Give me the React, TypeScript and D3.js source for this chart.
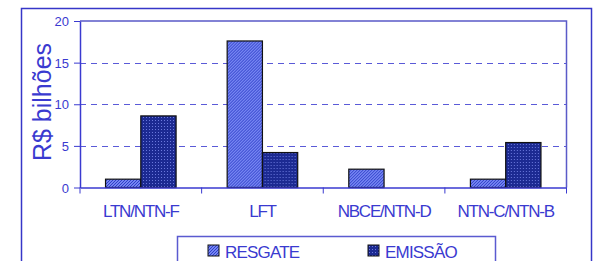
import React, { useEffect, useRef } from 'react';
import * as d3 from 'd3';

// Chart data
const categories = ['LTN/NTN-F', 'LFT', 'NBCE/NTN-D', 'NTN-C/NTN-B'];
const seriesNames = ['RESGATE', 'EMISSÃO'];
const resgate = [1.0, 17.6, 2.2, 1.0];
const emissao = [8.6, 4.2, 0, 5.4];
const yTicks = [0, 5, 10, 15, 20];

const BLUE = '#3a3ad0';

const App: React.FC = () => {
  const svgRef = useRef<SVGSVGElement>(null);

  useEffect(() => {
    if (!svgRef.current) return;
    const svg = d3.select(svgRef.current);
    svg.selectAll('*').remove();

    const plot = { left: 80, right: 566.5, top: 21, bottom: 187.5 };
    const font = '"Liberation Sans", Arial, sans-serif';

    // patterns
    const defs = svg.append('defs');
    const p1 = defs.append('pattern')
      .attr('id', 'hatch').attr('patternUnits', 'userSpaceOnUse')
      .attr('width', 3).attr('height', 3);
    p1.append('rect').attr('width', 3).attr('height', 3).attr('fill', '#7585f2');
    p1.append('path').attr('d', 'M-1,1 l2,-2 M0,3 l3,-3 M2,4 l2,-2')
      .attr('stroke', '#2f3fc8').attr('stroke-width', 1);

    const p2 = defs.append('pattern')
      .attr('id', 'dots').attr('patternUnits', 'userSpaceOnUse')
      .attr('width', 3).attr('height', 3);
    p2.append('rect').attr('width', 3).attr('height', 3).attr('fill', '#1c2a92');
    p2.append('rect').attr('width', 1).attr('height', 1).attr('fill', '#6a78dc');

    const fills = ['url(#hatch)', 'url(#dots)'];

    // outer border
    svg.append('rect')
      .attr('x', 21.5).attr('y', 8.5).attr('width', 570).attr('height', 270)
      .attr('fill', 'none').attr('stroke', '#3636c8').attr('stroke-width', 1.5);

    const x0 = d3.scaleBand<string>().domain(categories).range([plot.left, plot.right]).padding(0);
    const gap = x0.bandwidth() * 0.21;
    const x1 = d3.scaleBand<string>().domain(seriesNames).range([gap, x0.bandwidth() - gap]).padding(0);
    const y = d3.scaleLinear().domain([0, 20]).range([plot.bottom, plot.top]);

    // gridlines
    svg.append('g').selectAll('line')
      .data(yTicks.filter(t => t > 0 && t < 20))
      .join('line')
      .attr('x1', plot.left).attr('x2', plot.right)
      .attr('y1', d => Math.round(y(d)) + 0.5).attr('y2', d => Math.round(y(d)) + 0.5)
      .attr('stroke', '#5a5ad8').attr('stroke-dasharray', '6 5').attr('stroke-width', 1);

    // plot frame (top & right)
    svg.append('path')
      .attr('d', `M${plot.left},${plot.top} H${plot.right} V${plot.bottom}`)
      .attr('fill', 'none').attr('stroke', '#5a5ac8').attr('stroke-width', 1.5);

    // bars
    const rows = categories.map((c, i) => ({ c, values: [resgate[i], emissao[i]] }));
    const groups = svg.append('g').selectAll('g')
      .data(rows).join('g')
      .attr('transform', d => `translate(${x0(d.c)},0)`);
    groups.selectAll('rect')
      .data(d => d.values.map((v, k) => ({ v, k })).filter(e => e.v > 0))
      .join('rect')
      .attr('x', e => x1(seriesNames[e.k])!)
      .attr('width', x1.bandwidth())
      .attr('y', e => y(e.v))
      .attr('height', e => plot.bottom - y(e.v))
      .attr('fill', e => fills[e.k])
      .attr('stroke', '#111').attr('stroke-width', 1.2);

    // y axis
    const yAxis = svg.append('g')
      .attr('transform', `translate(${plot.left},0)`)
      .call(d3.axisLeft(y).tickValues(yTicks).tickSize(6).tickPadding(5).tickSizeOuter(0));
    yAxis.select('.domain').attr('stroke', BLUE).attr('stroke-width', 1.5);
    yAxis.selectAll('.tick line').attr('stroke', BLUE);
    yAxis.selectAll('.tick text')
      .attr('fill', BLUE).attr('font-size', 13).attr('font-family', font).attr('dy', '0.35em');

    // x axis
    const xAxis = svg.append('g')
      .attr('transform', `translate(0,${plot.bottom})`)
      .call(d3.axisBottom(x0).tickSize(0).tickPadding(17));
    xAxis.select('.domain').attr('stroke', BLUE).attr('stroke-width', 1.5);
    xAxis.selectAll('.tick text')
      .attr('fill', BLUE).attr('font-size', 17).attr('font-family', font)
      .attr('letter-spacing', -1.2);
    const edges = [...categories.map(c => x0(c)!), plot.right];
    svg.append('g').selectAll('line').data(edges).join('line')
      .attr('x1', d => d).attr('x2', d => d)
      .attr('y1', plot.bottom).attr('y2', plot.bottom + 6)
      .attr('stroke', BLUE).attr('stroke-width', 1);

    // y title
    svg.append('text')
      .attr('transform', `translate(51,102) rotate(-90)`)
      .attr('text-anchor', 'middle')
      .attr('fill', BLUE).attr('font-size', 25).attr('font-family', font)
      .text('R$ bilhões');

    // legend
    svg.append('rect')
      .attr('x', 177.5).attr('y', 236.5).attr('width', 318).attr('height', 40)
      .attr('fill', 'white').attr('stroke', '#5a5ad0').attr('stroke-width', 1.5);
    const legendX = [208, 368];
    seriesNames.forEach((name, k) => {
      svg.append('rect')
        .attr('x', legendX[k]).attr('y', 245).attr('width', 11).attr('height', 11)
        .attr('fill', fills[k]).attr('stroke', '#111').attr('stroke-width', 1);
      svg.append('text')
        .attr('x', legendX[k] + 17).attr('y', 257.5)
        .attr('fill', BLUE).attr('font-size', 17).attr('font-family', font)
        .attr('letter-spacing', -0.8)
        .text(name);
    });
  }, []);

  return (
    <svg ref={svgRef} width={603} height={261}
      style={{ position: 'absolute', left: 0, top: 0, background: 'white' }} />
  );
};

export default App;
